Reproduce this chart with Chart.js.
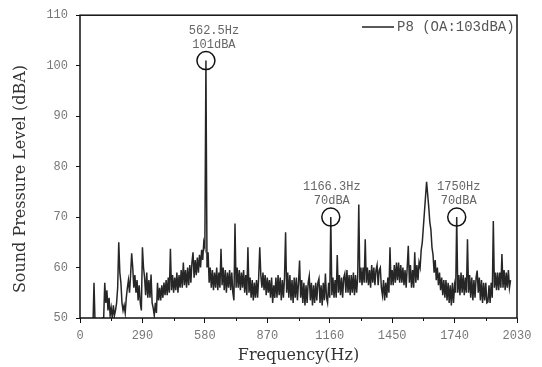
<!DOCTYPE html>
<html><head><meta charset="utf-8">
<script src="https://cdn.jsdelivr.net/npm/chart.js@4.4.0/dist/chart.umd.min.js"></script>
<style>html,body{margin:0;padding:0;background:#fff}canvas{display:block}</style>
</head><body>
<canvas id="c" width="542" height="367"></canvas>
<script>
// frequency bins (Hz)
const frequencies = [
0,5,10,15,20,25,30,35,40,45,50,55,60,65,70,75,80,85,90,95,
100,105,110,115,120,125,130,135,140,145,150,155,160,165,170,175,180,185,190,195,
200,205,210,215,220,225,230,235,240,245,250,255,260,265,270,275,280,285,290,295,
300,305,310,315,320,325,330,335,340,345,350,355,360,365,370,375,380,385,390,395,
400,405,410,415,420,425,430,435,440,445,450,455,460,465,470,475,480,485,490,495,
500,505,510,515,520,525,530,535,540,545,550,555,560,565,570,575,580,585,590,595,
600,605,610,615,620,625,630,635,640,645,650,655,660,665,670,675,680,685,690,695,
700,705,710,715,720,725,730,735,740,745,750,755,760,765,770,775,780,785,790,795,
800,805,810,815,820,825,830,835,840,845,850,855,860,865,870,875,880,885,890,895,
900,905,910,915,920,925,930,935,940,945,950,955,960,965,970,975,980,985,990,995,
1000,1005,1010,1015,1020,1025,1030,1035,1040,1045,1050,1055,1060,1065,1070,1075,1080,1085,1090,1095,
1100,1105,1110,1115,1120,1125,1130,1135,1140,1145,1150,1155,1160,1165,1170,1175,1180,1185,1190,1195,
1200,1205,1210,1215,1220,1225,1230,1235,1240,1245,1250,1255,1260,1265,1270,1275,1280,1285,1290,1295,
1300,1305,1310,1315,1320,1325,1330,1335,1340,1345,1350,1355,1360,1365,1370,1375,1380,1385,1390,1395,
1400,1405,1410,1415,1420,1425,1430,1435,1440,1445,1450,1455,1460,1465,1470,1475,1480,1485,1490,1495,
1500,1505,1510,1515,1520,1525,1530,1535,1540,1545,1550,1555,1560,1565,1570,1575,1580,1585,1590,1595,
1600,1605,1610,1615,1620,1625,1630,1635,1640,1645,1650,1655,1660,1665,1670,1675,1680,1685,1690,1695,
1700,1705,1710,1715,1720,1725,1730,1735,1740,1745,1750,1755,1760,1765,1770,1775,1780,1785,1790,1795,
1800,1805,1810,1815,1820,1825,1830,1835,1840,1845,1850,1855,1860,1865,1870,1875,1880,1885,1890,1895,
1900,1905,1910,1915,1920,1925,1930,1935,1940,1945,1950,1955,1960,1965,1970,1975,1980,1985,1990,1995,
2000];
// sound pressure level (dBA)
const levels = [
47,47,48,47,48,47,48,48,47,48,48,48,48,57,49,48,49,48,49,48,
49,50,50,57,53,55.5,51.5,54,50.5,52,50,52.5,50.5,51.5,53,56,65,59,57,53,
51.5,52.5,51,54,56,57.5,55,58.5,62.8,60,56,58.5,55,57.5,53.5,56.5,53,51.5,64,60,
58,54.5,59,54,57.5,54,58.6,53,52,50.5,53,51,57,53.5,56,53.5,56.5,54,57,54.5,
57.5,54.5,58,55,63.7,55.5,58.5,55,58,55.5,59,55,58.5,56,59.5,56,61,56.5,59.5,56,
60,56.5,60.5,57,61,63,58,61.5,58.5,62,59,62.5,60,63.5,61.5,65,64,101,60,63,
57,60,56,59.5,55.5,59,56,60,55.5,59,56,63.7,56.5,60,55.5,59.5,55,59,56,59.5,
55.5,59,55,53.5,68.7,56,60,56,59.5,55.5,59,56,59.5,55,58.5,54.5,64,55,58,54,
57.5,53.5,57,54,57.5,54,58,64,58.5,56,59,55.5,58.5,54.5,58,55,57.5,54,58,53,
56.5,54,58,54,58.5,54.5,58,53.5,57.5,54,58,67,55,59,54,58.5,53.5,57.5,53,58,
54,58,53.5,57,61.4,54,57.5,53,57,52.5,56.5,53,57,58.3,53.5,57,52.5,56.5,53,57,
53.5,57,57.8,53,56.5,52.5,57,53.5,58.8,54,53,57,54,70,54.5,58,54,57.5,54,62.5,
55,58.5,54.5,58,54,58,58.8,55,59.5,55,58.5,54.5,58.5,55,59,54.5,58.5,55,58,72.5,
57,60,56.5,60,57,65.6,57,60,56.5,59.5,56,60.5,57,60,56.5,59.5,60.5,56.5,59.5,60,
56,54.5,57.5,53.5,57,54,58,55,64,56.5,59.5,56.5,60.5,57,61,57.5,61,57,60.5,57,
60,56.5,59.5,56,60,64.3,57,60.5,56,59.5,56,63,57,60.5,57.5,61,60,63.5,65,68,
71,74,77,74.5,72,69,67.5,64,62.5,59,61.5,57.5,60,56.5,59,55.5,58,54.5,57.5,54,
57.5,53.5,57,53,56.5,52.5,57,53,56.5,55,70,55,58.5,54.5,59,55,58.5,54.5,58,55,
65.6,55,58.5,54,58,53.5,57.5,54,58,59.4,55,58,53.5,57.5,53,57,53.5,57,53,53.2,
56.5,53,57,54,69.2,56,59,55.5,59,55.5,59,56,62.7,56,59.5,55.5,59,56,59.5,56,
57.5];
const seriesName = 'P8 (OA:103dBA)';
const xTicks = [0,290,580,870,1160,1450,1740,2030];
const xMinorTicks = [145,435,725,1015,1305,1595,1885];
const yTicks = [50,60,70,80,90,100,110];
const peakFreqs = [585,1165,1750];
const peakLevels = [101,70,70];
const peakHzLabels = ['562.5Hz','1166.3Hz','1750Hz'];
const peakDbLabels = ['101dBA','70dBA','70dBA'];
const xTitle = 'Frequency(Hz)';
const yTitle = 'Sound Pressure Level (dBA)';

const labelShift = [8, 1, 2];

const decor = {
  id: 'decor',
  afterDraw(chart) {
    const {ctx, chartArea: a, scales: {x, y}} = chart;
    ctx.save();
    ctx.strokeStyle = '#111';
    ctx.lineWidth = 1.5;
    ctx.strokeRect(a.left, a.top, a.right - a.left, a.bottom - a.top);
    ctx.lineWidth = 1;
    ctx.beginPath();
    xMinorTicks.forEach(f => {
      const px = Math.round(x.getPixelForValue(f)) + 0.5;
      ctx.moveTo(px, a.bottom); ctx.lineTo(px, a.bottom + 3);
    });
    ctx.stroke();
    ctx.font = '12px "Liberation Mono", monospace';
    ctx.fillStyle = '#666';
    ctx.textAlign = 'center';
    ctx.textBaseline = 'middle';
    peakFreqs.forEach((f, i) => {
      const cx = x.getPixelForValue(f);
      const cy = y.getPixelForValue(peakLevels[i]);
      ctx.strokeStyle = '#111';
      ctx.lineWidth = 1.5;
      ctx.beginPath();
      ctx.arc(cx, cy, 9, 0, Math.PI * 2);
      ctx.stroke();
      ctx.fillText(peakHzLabels[i], cx + labelShift[i], cy - 30);
      ctx.fillText(peakDbLabels[i], cx + labelShift[i], cy - 16);
    });
    ctx.strokeStyle = '#222';
    ctx.lineWidth = 1.5;
    ctx.beginPath();
    ctx.moveTo(362, 27); ctx.lineTo(394, 27);
    ctx.stroke();
    ctx.font = '14px "Liberation Mono", monospace';
    ctx.fillStyle = '#555';
    ctx.textAlign = 'left';
    ctx.fillText(seriesName, 397, 27);
    ctx.fillStyle = '#333';
    ctx.font = '16px "DejaVu Serif", serif';
    ctx.textAlign = 'center';
    ctx.fillText(xTitle, (a.left + a.right) / 2, 356);
    ctx.translate(21, 179);
    ctx.rotate(-Math.PI / 2);
    ctx.fillText(yTitle, 0, 0);
    ctx.restore();
  }
};

new Chart(document.getElementById('c'), {
  type: 'line',
  data: {
    datasets: [{
      label: seriesName,
      data: frequencies.map((f, i) => ({x: f, y: levels[i]})),
      borderColor: '#262626',
      borderWidth: 1.5,
      pointRadius: 0,
      tension: 0,
      fill: false
    }]
  },
  options: {
    responsive: false,
    animation: false,
    events: [],
    layout: {padding: {top: 13, right: 25, left: 0, bottom: 0}},
    plugins: {legend: {display: false}, tooltip: {enabled: false}},
    scales: {
      x: {
        type: 'linear', min: 0, max: 2030,
        afterBuildTicks: s => { s.ticks = xTicks.map(v => ({value: v})); },
        afterFit: s => { s.height = 49; },
        grid: {drawOnChartArea: false, drawTicks: true, tickLength: 5, color: '#111', lineWidth: 1},
        border: {display: false},
        ticks: {font: {family: 'Liberation Mono', size: 12}, color: '#777', padding: 6, maxRotation: 0, autoSkip: false, callback: v => String(v)}
      },
      y: {
        type: 'linear', min: 50, max: 110,
        afterBuildTicks: s => { s.ticks = yTicks.map(v => ({value: v})); },
        afterFit: s => { s.width = 80; },
        grid: {drawOnChartArea: false, drawTicks: true, tickLength: 4, color: '#111', lineWidth: 1},
        border: {display: false},
        ticks: {font: {family: 'Liberation Mono', size: 12}, color: '#777', padding: 8, callback: v => String(v)}
      }
    }
  },
  plugins: [decor]
});
</script>
</body></html>
